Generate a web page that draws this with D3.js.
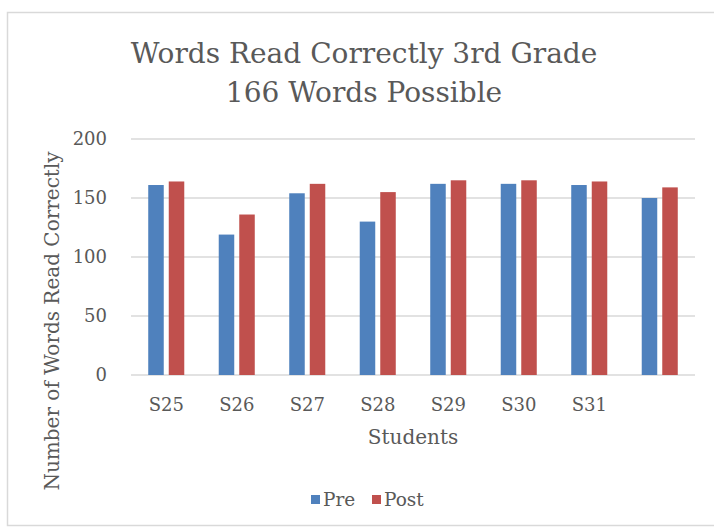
<!DOCTYPE html>
<html lang='en'>
	<head>
		<title>Words Read Correctly 3rd Grade</title>
		<script type='text/javascript' src='https://cdn.jsdelivr.net/npm/d3@7/dist/d3.min.js'></script>
		<style>
			body { margin: 0; background: #fff; }
			text { font-family: 'DejaVu Serif', serif; fill: #595959; }
		</style>
	</head>
	<body>
		<svg id='svg' width='714' height='529'></svg>
		<script type='text/javascript'>
			// data
			var students = ['S25', 'S26', 'S27', 'S28', 'S29', 'S30', 'S31', ''];
			var pre_scores = [161, 119, 154, 130, 162, 162, 161, 150];
			var post_scores = [164, 136, 162, 155, 165, 165, 164, 159];
			var series_names = ['Pre', 'Post'];
			var series_colors = ['#4F81BD', '#C0504D'];
			var y_ticks = [0, 50, 100, 150, 200];
			var title_lines = ['Words Read Correctly 3rd Grade', '166 Words Possible'];

			var svg = d3.select('#svg');
			var plot_left = 131, plot_right = 695, plot_top = 139, plot_bottom = 375;

			// chart area border
			svg.append('rect')
				.attr('x', 7.5).attr('y', 12.5).attr('width', 730).attr('height', 513)
				.attr('fill', 'none').attr('stroke', '#d9d9d9').attr('stroke-width', 1.5);

			var y = d3.scaleLinear().domain([0, 200]).range([plot_bottom, plot_top]);
			var x = d3.scaleBand().domain(students).range([plot_left, plot_right]);
			var x_inner = d3.scaleBand().domain(series_names).range([0, x.bandwidth()])
				.paddingInner(0.244).paddingOuter(0.84);

			// gridlines
			svg.selectAll('.grid').data(y_ticks).enter().append('line')
				.attr('class', 'grid')
				.attr('x1', plot_left).attr('x2', plot_right)
				.attr('y1', d => y(d)).attr('y2', d => y(d))
				.attr('stroke', '#d9d9d9').attr('stroke-width', 1.5);

			// bars
			var rows = students.map((s, i) => ({ name: s, values: [pre_scores[i], post_scores[i]] }));
			var groups = svg.selectAll('.group').data(rows).enter().append('g')
				.attr('class', 'group')
				.attr('transform', d => 'translate(' + x(d.name) + ',0)');
			groups.selectAll('rect').data(d => d.values).enter().append('rect')
				.attr('x', (d, i) => x_inner(series_names[i]))
				.attr('width', x_inner.bandwidth())
				.attr('y', d => y(d))
				.attr('height', d => plot_bottom - y(d))
				.attr('fill', (d, i) => series_colors[i]);

			// axes
			var y_axis = svg.append('g').attr('transform', 'translate(' + plot_left + ',0)')
				.call(d3.axisLeft(y).tickValues(y_ticks).tickSize(0).tickPadding(24));
			y_axis.select('.domain').remove();
			y_axis.selectAll('text').style('font-size', '18px').style('font-family', 'DejaVu Serif').attr('fill', '#595959');

			var x_axis = svg.append('g').attr('transform', 'translate(0,' + plot_bottom + ')')
				.call(d3.axisBottom(x).tickSize(0).tickPadding(23));
			x_axis.select('.domain').remove();
			x_axis.selectAll('text').style('font-size', '18px').style('font-family', 'DejaVu Serif').attr('fill', '#595959');

			// titles
			svg.selectAll('.title').data(title_lines).enter().append('text')
				.attr('class', 'title')
				.attr('x', 364).attr('y', (d, i) => 63 + i * 39)
				.attr('text-anchor', 'middle').style('font-size', '28px')
				.text(d => d);

			svg.append('text').attr('x', (plot_left + plot_right) / 2).attr('y', 444)
				.attr('text-anchor', 'middle').style('font-size', '20px').text('Students');

			svg.append('text').attr('transform', 'translate(59,321) rotate(-90)')
				.attr('text-anchor', 'middle').style('font-size', '20px').text('Number of Words Read Correctly');

			// legend
			var legend_x = [311, 372];
			var legend = svg.selectAll('.legend').data(series_names).enter().append('g')
				.attr('class', 'legend')
				.attr('transform', (d, i) => 'translate(' + legend_x[i] + ',495)');
			legend.append('rect').attr('width', 9).attr('height', 9)
				.attr('fill', (d, i) => series_colors[i]);
			legend.append('text').attr('x', 12).attr('y', 11).style('font-size', '18.5px').text(d => d);
		</script>
	</body>
</html>
